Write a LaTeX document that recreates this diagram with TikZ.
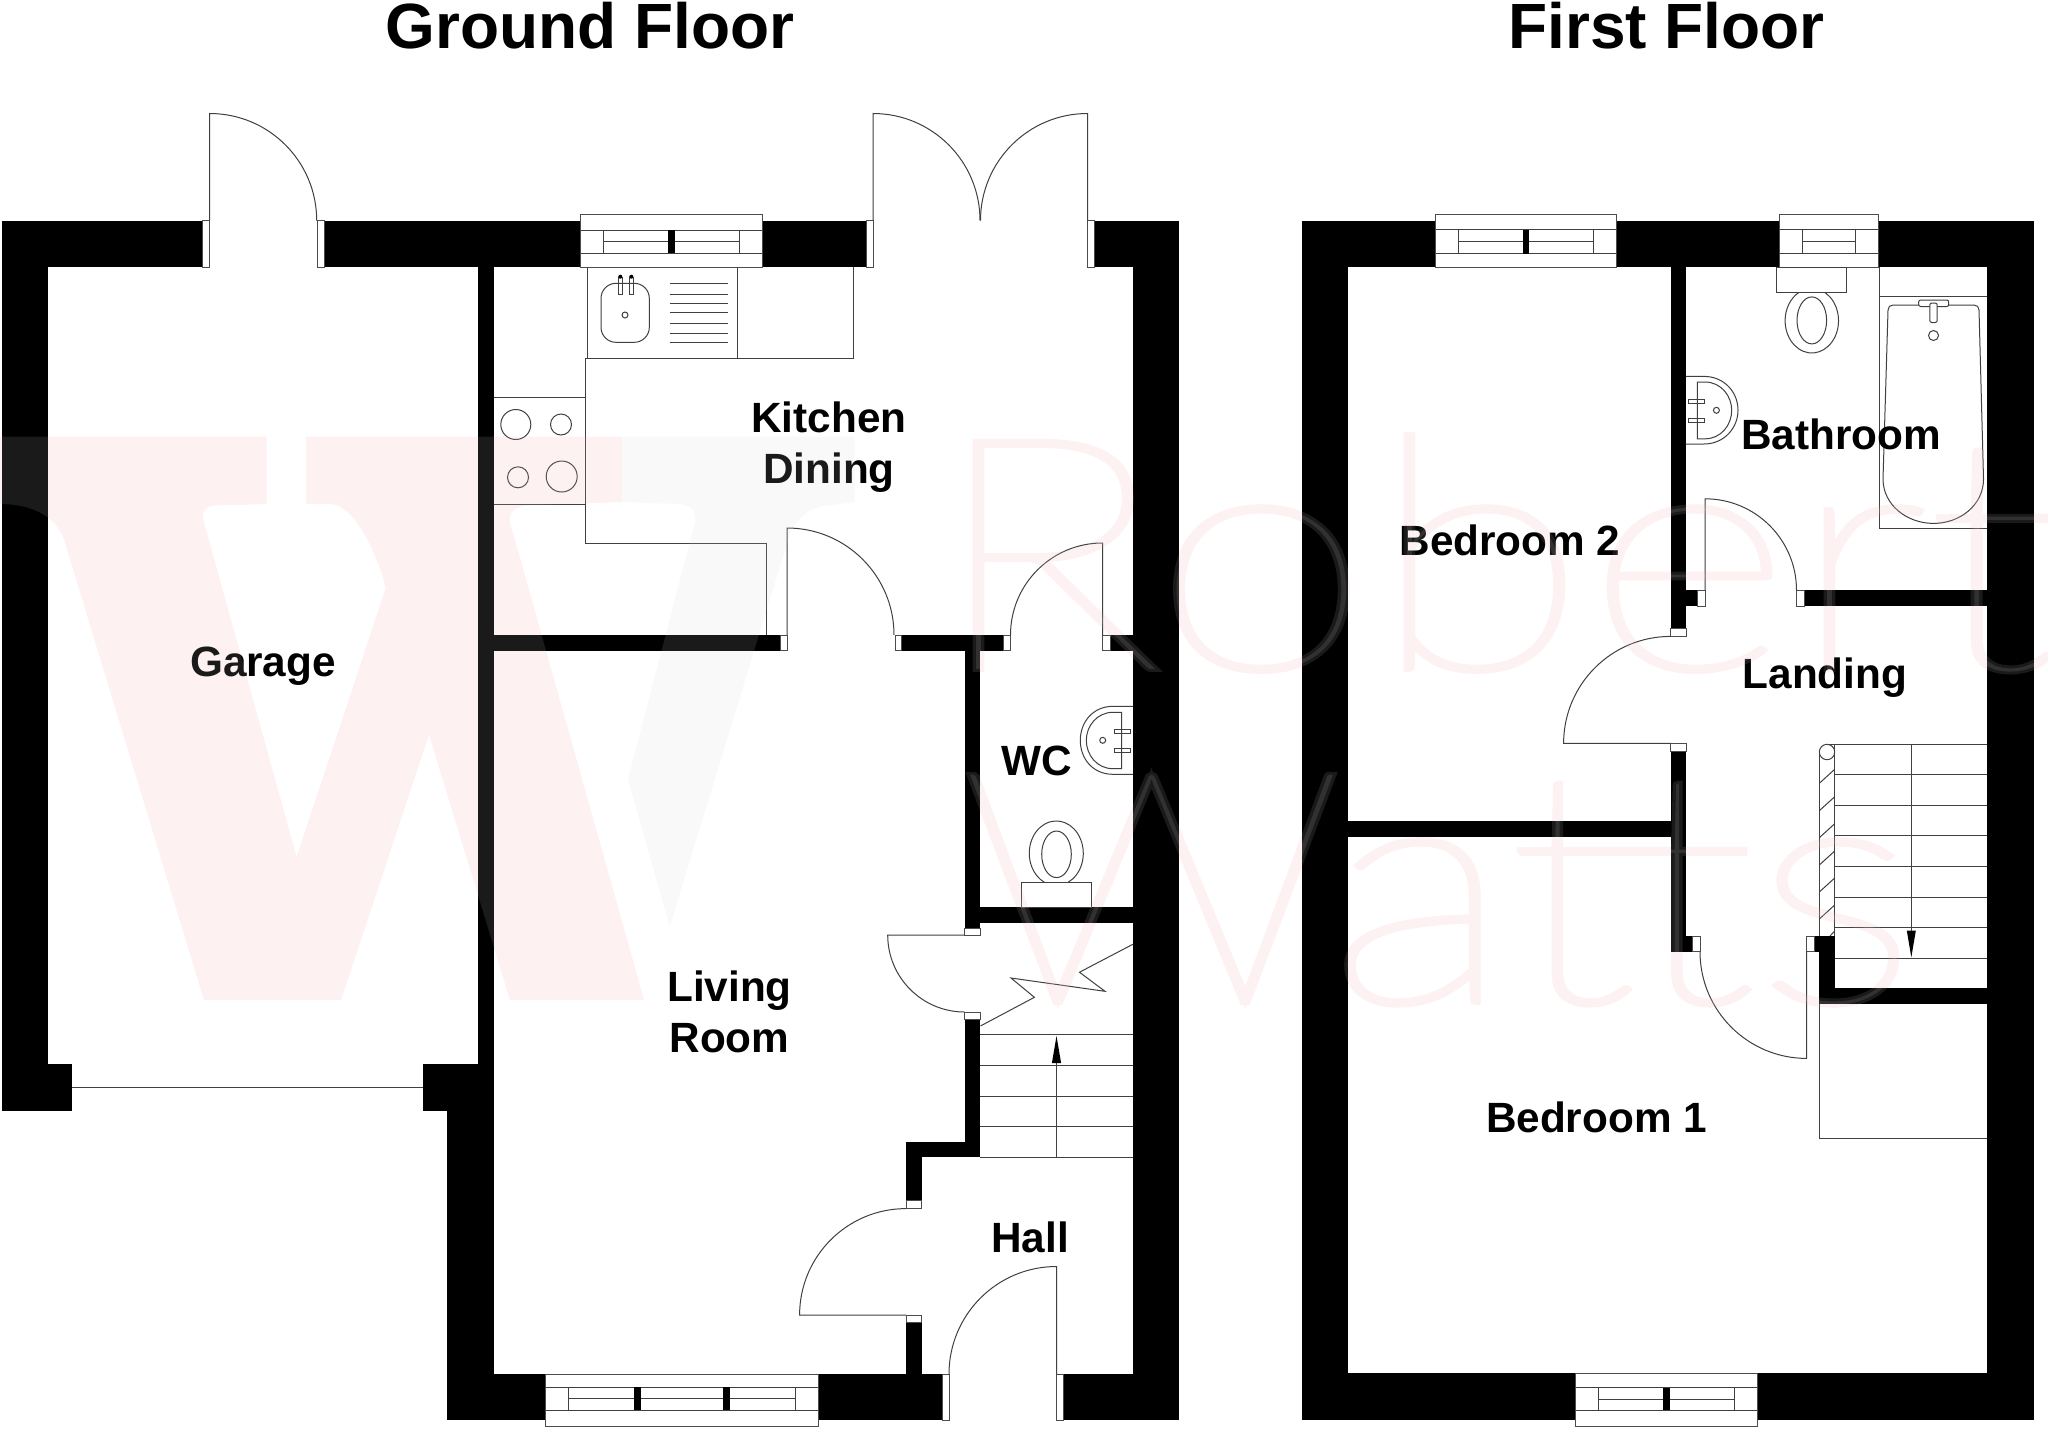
\documentclass[tikz,border=0pt]{standalone}
\usepackage{fontspec}
\setmainfont{Liberation Sans}
\newfontfamily\markfont[FakeBold=1.8]{Lato Thin}
\definecolor{markpink}{HTML}{FDF0F1}
\definecolor{markgrey}{HTML}{F9F9F9}
\tikzset{
  wallfill/.style={fill=black},
  jamb/.style={draw=black!70,fill=white,line width=0.05cm},
  fixture/.style={draw=black!75,line width=0.05cm},
  title/.style={font=\fontsize{91}{100}\bfseries\selectfont,anchor=base,inner sep=0pt},
  room/.style={font=\fontsize{60.2}{72.5}\bfseries\selectfont,align=center,inner sep=0pt},
}
\newcommand{\windowbox}[6]{
\draw[jamb] (#1,#3) rectangle (#2,#6);
\draw[fixture] (#1,#4)--(#2,#4) (#1,#5)--(#2,#5);
\draw[fixture] ({#1+23},#4)--({#1+23},#5) ({#2-23},#4)--({#2-23},#5);
\draw[fixture] ({#1+23},{(#4+#5)/2})--({#2-23},{(#4+#5)/2});
}
\newcommand{\doorswing}[5]{
\draw[fixture] (#1,#2)--+(#3:#5) arc[start angle=#3,end angle=#4,radius=#5];
}
\newcommand{\watermark}[4]{
\fill[#1,opacity=#3] (3,436.7)--(266.6,436.7)--(266.6,504)--(216.9,505.3) .. controls (206,506) and (202,510) .. (202.8,518.3)--(296.6,857)--(385.9,587.7) .. controls (376,550) and (354,506) .. (331.7,504)--(306,504)--(306,436.7)--(621.9,436.7)--(621.9,502)--(529.4,505.3) .. controls (515,506) and (508,512) .. (510,522.4)--(644,1000)--(510,1000)--(429,734.6)--(341,1000)--(204,1000)--(63.8,538.7) .. controls (55,515) and (30,504) .. (0,504)--(0,436.7)--cycle;
\fill[#2,opacity=#3] (621.9,436.7)--(854.6,436.7)--(854.6,502)--(822.8,506) .. controls (805,510) and (798,520) .. (790.9,530.6)--(669.7,926.3)--(628,779.4)--(695,522.4) .. controls (697,512) and (692,505) .. (680,504)--(621.9,502)--cycle;
\node[anchor=base west,inner sep=0pt,text=#1,text opacity=#3] (robert#4) at (930,669) {\scalebox{1.22}[1]{\markfont\fontsize{462}{500}\selectfont Robert}};
\node[anchor=base west,inner sep=0pt,text=#1,text opacity=#3] (watts#4) at (958,1002) {\scalebox{1.19}[1]{\markfont\fontsize{462}{500}\selectfont Watts}};
}
\begin{document}
\begin{tikzpicture}[x=0.05cm,y=0.05cm,yscale=-1]
\clip (0,0) rectangle (2048,1428);
\fill[white] (0,0) rectangle (2048,1428);
\watermark{markpink}{markgrey}{1}{under}
\node[title] (groundtitle) at (590,48) {Ground Floor};
\node[title] (firsttitle) at (1666.5,48) {First Floor};
\fill[wallfill] (1.5,220.5) rectangle (202,267);
\fill[wallfill] (324,220.5) rectangle (581,267);
\fill[wallfill] (762,220.5) rectangle (866,267);
\fill[wallfill] (1094,220.5) rectangle (1179,267);
\fill[wallfill] (1.5,220.5) rectangle (48,1110.5);
\fill[wallfill] (1.5,1064) rectangle (72.3,1110.5);
\fill[wallfill] (478,267) rectangle (493.5,1110.5);
\fill[wallfill] (422.7,1064) rectangle (493.5,1110.5);
\fill[wallfill] (447,1064) rectangle (493.5,1420);
\fill[wallfill] (447,1374) rectangle (545.7,1420);
\fill[wallfill] (818,1374) rectangle (942,1420);
\fill[wallfill] (1063,1374) rectangle (1179,1420);
\fill[wallfill] (1133,220.5) rectangle (1179,1420);
\fill[wallfill] (493.5,635) rectangle (780,650.7);
\fill[wallfill] (901.5,635) rectangle (1003,650.7);
\fill[wallfill] (1110,635) rectangle (1133,650.7);
\fill[wallfill] (964.7,650) rectangle (980.3,928);
\fill[wallfill] (964.7,907) rectangle (1133,923.3);
\fill[wallfill] (964.7,1019) rectangle (980.3,1157);
\fill[wallfill] (906,1141.7) rectangle (980.3,1157);
\fill[wallfill] (906,1157) rectangle (921.8,1200.7);
\fill[wallfill] (906,1322) rectangle (921.8,1374);
\fill[wallfill] (1302,221) rectangle (1435.5,267);
\fill[wallfill] (1616.8,221) rectangle (1779,267);
\fill[wallfill] (1878,221) rectangle (2034,267);
\fill[wallfill] (1302,221) rectangle (1348.4,1420);
\fill[wallfill] (1987,221) rectangle (2034,1420);
\fill[wallfill] (1302,1373.3) rectangle (1575.7,1420);
\fill[wallfill] (1757,1373.3) rectangle (2034,1420);
\fill[wallfill] (1670.6,267) rectangle (1686,628.6);
\fill[wallfill] (1670.6,751) rectangle (1686.3,951.7);
\fill[wallfill] (1670.6,936) rectangle (1692.3,951.7);
\fill[wallfill] (1686,590.3) rectangle (1697.3,606.4);
\fill[wallfill] (1804,590.3) rectangle (1987,606.4);
\fill[wallfill] (1348.4,821) rectangle (1670.6,836.7);
\fill[wallfill] (1814,936) rectangle (1834.7,951.7);
\fill[wallfill] (1819.3,936) rectangle (1834.7,1004);
\fill[wallfill] (1819.3,988.3) rectangle (1987,1004);
\draw[jamb] (202,220.5) rectangle (209.7,267);
\draw[jamb] (317,220.5) rectangle (324,267);
\draw[jamb] (866,220.5) rectangle (873,267);
\draw[jamb] (1087.5,220.5) rectangle (1094,267);
\draw[jamb] (780,635) rectangle (787,650.7);
\draw[jamb] (895,635) rectangle (901.5,650.7);
\draw[jamb] (1003,635) rectangle (1010.5,650.7);
\draw[jamb] (1102.5,635) rectangle (1110,650.7);
\draw[jamb] (964.7,928) rectangle (980.3,935);
\draw[jamb] (964.7,1012) rectangle (980.3,1019);
\draw[jamb] (906,1200.7) rectangle (921.8,1208);
\draw[jamb] (906,1315) rectangle (921.8,1322);
\draw[jamb] (942,1374) rectangle (949,1420);
\draw[jamb] (1056.5,1374) rectangle (1063,1420);
\draw[jamb] (1697.3,590.3) rectangle (1705,606.4);
\draw[jamb] (1796.6,590.3) rectangle (1804,606.4);
\draw[jamb] (1670.6,628.6) rectangle (1686,636.3);
\draw[jamb] (1670.6,743.4) rectangle (1686,751);
\draw[jamb] (1692.3,936) rectangle (1700,951.7);
\draw[jamb] (1806.7,936) rectangle (1814,951.7);
\doorswing{209.7}{220.5}{-90}{0}{107}
\doorswing{873}{220.5}{-90}{0}{107}
\doorswing{1087.5}{220.5}{-90}{-180}{107}
\doorswing{787}{635}{-90}{0}{107}
\doorswing{1102.5}{635}{-90}{-180}{92}
\doorswing{964.7}{935}{180}{90}{77}
\doorswing{906}{1315}{180}{270}{106.4}
\doorswing{1056.5}{1374}{-90}{-180}{107.5}
\doorswing{1705}{590.3}{-90}{0}{91.5}
\doorswing{1670.6}{743.4}{180}{270}{107}
\doorswing{1806.7}{951.7}{90}{180}{106.7}
\draw[fixture] (72.3,1087.7)--(422.7,1087.7);
\windowbox{580.7}{762.3}{214.3}{230.3}{253.3}{267}
\fill[wallfill] (668,230.3) rectangle (675,253.3);
\windowbox{545.7}{818}{1374}{1387}{1410.4}{1426.5}
\fill[wallfill] (634,1387) rectangle (641,1410.4);
\fill[wallfill] (723,1387) rectangle (729.5,1410.4);
\windowbox{1435.5}{1616.8}{214.5}{229.8}{253.6}{267}
\fill[wallfill] (1522.8,229.8) rectangle (1529.4,253.6);
\windowbox{1779}{1878}{214.5}{229.8}{253.6}{267}
\windowbox{1575.7}{1757}{1373.3}{1387.7}{1410.3}{1426.5}
\fill[wallfill] (1663,1387.7) rectangle (1669.7,1410.3);
\draw[fixture] (587.3,267)--(587.3,358.3) (737.7,267)--(737.7,358.3) (853.7,267)--(853.7,358.3);
\draw[fixture] (585.3,358.3)--(853.7,358.3);
\draw[fixture] (585.3,358.3)--(585.3,543.5)--(766.8,543.5)--(766.8,635);
\draw[fixture] (493.5,397)--(585.3,397) (493.5,504.5)--(585.3,504.5);
\draw[fixture] (515.8,424.5) circle (15);
\draw[fixture] (561,424.5) circle (10.5);
\draw[fixture] (518,477.3) circle (10.5);
\draw[fixture] (561.7,476.5) circle (15.5);
\draw[fixture,rounded corners=0.75cm] (601,283.3) rectangle (649.3,342.3);
\draw[fixture] (618.3,277) rectangle (622.3,294.3);
\draw[fixture] (629.3,277) rectangle (633.3,294.3);
\fill[wallfill] (620.3,276.7) circle (2);
\fill[wallfill] (631.3,276.7) circle (2);
\draw[fixture] (625,315) circle (3);
\draw[fixture] (669.7,283.3)--(727.7,283.3) (669.7,294.3)--(727.7,294.3) (669.7,303.3)--(727.7,303.3) (669.7,312.7)--(727.7,312.7) (669.7,323.7)--(727.7,323.7) (669.7,333)--(727.7,333) (669.7,342.3)--(727.7,342.3);
\draw[fixture] (1133,706.3)--(1113,706.3) .. controls (1093,706.3) and (1080.3,722) .. (1080.3,740.3) .. controls (1080.3,759) and (1093,774.3) .. (1113,774.3)--(1133,774.3);
\draw[fixture] (1121.7,712.3)--(1121.7,768.7)--(1113,768.7) .. controls (1097,768.7) and (1086.3,755) .. (1086.3,740.3) .. controls (1086.3,726) and (1097,712.3) .. (1113,712.3)--cycle;
\draw[fixture] (1114.3,729.3) rectangle (1130.7,733.3);
\draw[fixture] (1114.3,748) rectangle (1130.7,752);
\draw[fixture] (1102.7,740.3) circle (3);
\draw[fixture] (1021.7,907) rectangle (1091.7,882.3);
\draw[fixture] (1068.1,882.3) arc[start angle=64,end angle=-244,x radius=27,y radius=32.3];
\draw[fixture] (1056.5,854.3) ellipse (14.8 and 23.3);
\draw[fixture] (980.4,1026)--(1034.4,997.3)--(1011,978)--(1105,991.3)--(1079.5,972.2)--(1133,944.2);
\draw[fixture] (980.4,1034.7)--(1133,1034.7) (980.4,1065)--(1133,1065) (980.4,1096)--(1133,1096) (980.4,1126.6)--(1133,1126.6) (980.4,1157)--(1133,1157);
\draw[fixture] (1056.5,1157)--(1056.5,1063);
\fill[wallfill] (1051.9,1063)--(1061.1,1063)--(1056.5,1036)--cycle;
\draw[fixture] (1686,376.4)--(1704,376.4) .. controls (1724,376.4) and (1738,392) .. (1738,410.2) .. controls (1738,428) and (1724,444) .. (1704,444)--(1686,444);
\draw[fixture] (1697.4,382)--(1697.4,438.8)--(1705,438.8) .. controls (1721,438.8) and (1731.7,425) .. (1731.7,410.2) .. controls (1731.7,396) and (1721,382) .. (1705,382)--cycle;
\draw[fixture] (1688.8,399) rectangle (1704.5,403);
\draw[fixture] (1688.8,418) rectangle (1704.5,422);
\draw[fixture] (1716.4,410.3) circle (3);
\draw[fixture] (1776.5,267) rectangle (1846.7,292.6);
\draw[fixture] (1825,292.6) arc[start angle=-60.4,end angle=240.4,x radius=26.7,y radius=32.3];
\draw[fixture] (1811.8,320.4) ellipse (14.8 and 23.5);
\draw[fixture] (1879.6,267)--(1879.6,528.4)--(1987,528.4) (1879.6,296.4)--(1987,296.4);
\draw[fixture] (1893,305)--(1974,305) .. controls (1977,305) and (1979,307) .. (1979,310)--(1983.5,479) .. controls (1983.5,505) and (1960,523.4) .. (1933.5,523.4) .. controls (1907,523.4) and (1883,505) .. (1883,479)--(1888,310) .. controls (1888,307) and (1890,305) .. (1893,305)--cycle;
\draw[fixture,fill=white,rounded corners=0.1cm] (1918.7,300) rectangle (1948.7,306.5);
\draw[fixture,fill=white,rounded corners=0.1cm] (1929.8,303) rectangle (1937.2,322.5);
\draw[fixture] (1933.5,335.5) circle (5);
\draw[fixture] (1834.7,744)--(1987,744) (1834.7,774.3)--(1987,774.3) (1834.7,805.3)--(1987,805.3) (1834.7,835.7)--(1987,835.7) (1834.7,866.3)--(1987,866.3) (1834.7,897)--(1987,897) (1834.7,927.3)--(1987,927.3) (1834.7,958)--(1987,958);
\draw[fixture] (1819.3,752)--(1819.3,936) (1834.7,744)--(1834.7,936) (1827,744)--(1834.7,744);
\draw[fixture] (1827,752) circle (7.7);
\draw[fixture] (1819.3,783.3)--(1834.7,769.3) (1819.3,810.7)--(1834.7,796.7) (1819.3,837.7)--(1834.7,823.7) (1819.3,865)--(1834.7,851) (1819.3,892)--(1834.7,878) (1819.3,919)--(1834.7,905) (1830,936)--(1834.7,931);
\draw[fixture] (1911.3,744)--(1911.3,930.7);
\fill[wallfill] (1906.8,930.7)--(1915.8,930.7)--(1911.3,957.3)--cycle;
\draw[fixture] (1819.3,1004)--(1819.3,1138.3)--(1987,1138.3);
\node[room,anchor=center] (kitchen) at (829,447.5) {Kitchen\\Dining};
\node[room,anchor=base] (garage) at (263,676.5) {Garage};
\node[room,anchor=center] (living) at (729.5,1012) {Living\\Room};
\node[room,anchor=base] (hall) at (1030,1252.5) {Hall};
\node[room,anchor=base] (wc) at (1037,775.7) {WC};
\node[room,anchor=base] (bedtwo) at (1510,555) {Bedroom 2};
\node[room,anchor=base] (bathroom) at (1841,449.5) {Bathroom};
\node[room,anchor=base] (landing) at (1825,688) {Landing};
\node[room,anchor=base] (bedone) at (1596.5,1132.5) {Bedroom 1};
\watermark{white}{white}{0.1}{over}
\end{tikzpicture}
\end{document}
